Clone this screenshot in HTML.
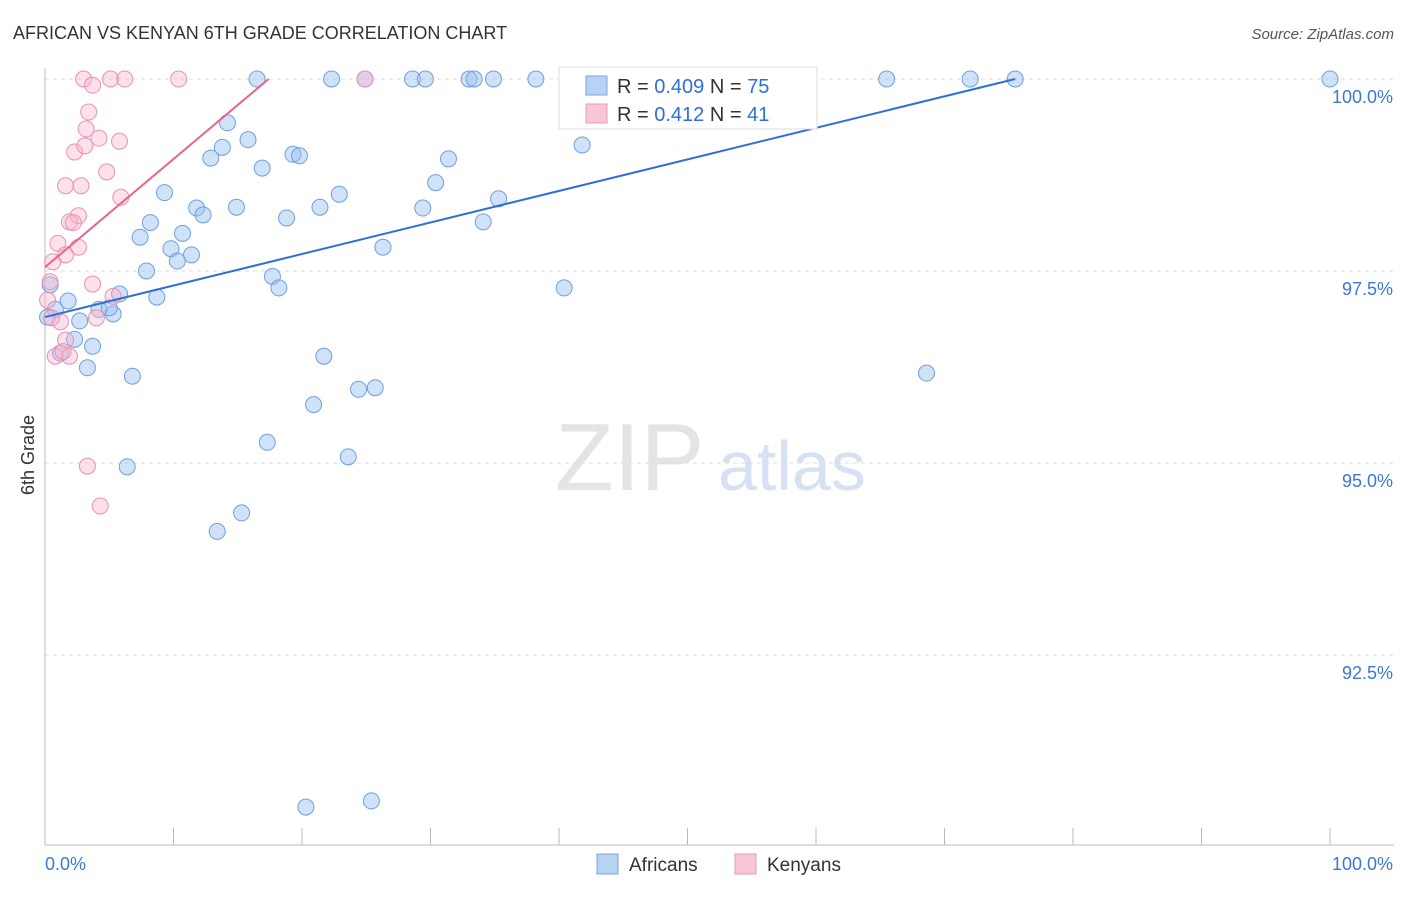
<!DOCTYPE html>
<html><head><meta charset="utf-8"><style>
body{margin:0;background:#fff;font-family:"Liberation Sans",sans-serif}
svg text{font-family:"Liberation Sans",sans-serif}
</style></head><body>
<svg id="chart" width="1406" height="892" xmlns="http://www.w3.org/2000/svg">
<text x="13" y="39" font-size="18" fill="#333">AFRICAN VS KENYAN 6TH GRADE CORRELATION CHART</text>
<text x="1394" y="39" font-size="15" fill="#555" font-style="italic" text-anchor="end">Source: ZipAtlas.com</text>
<text x="34" y="455" font-size="18" fill="#333" transform="rotate(-90 34 455)" text-anchor="middle">6th Grade</text>
<text x="555" y="490" font-size="96" fill="#e4e4e4" font-family="Liberation Serif">ZIP</text>
<text x="718" y="490" font-size="70" fill="#d6e2f3">atlas</text>
<g id="grid"></g><g id="axes"></g><g id="pts"></g><g id="trend"></g>
<g>
<rect x="559" y="67" width="258" height="62" fill="#fff" stroke="#ddd"/>
<rect x="586" y="76" width="21" height="19" fill="#b7d2f3" stroke="#7aa6e0"/>
<rect x="586" y="104" width="21" height="19" fill="#f9c6d6" stroke="#ec9ab4"/>
<text x="617" y="93" font-size="20" fill="#333">R = <tspan fill="#2f6fd6">0.409</tspan>   N = <tspan fill="#2f6fd6">75</tspan></text>
<text x="617" y="121" font-size="20" fill="#333">R =  <tspan fill="#2f6fd6">0.412</tspan>   N =  <tspan fill="#2f6fd6">41</tspan></text>
</g>
<g>
<rect x="597" y="854" width="21" height="20" fill="#b7d2f3" stroke="#7aa6e0"/>
<text x="629" y="871" font-size="19" fill="#333">Africans</text>
<rect x="735" y="854" width="21" height="20" fill="#f9c6d6" stroke="#ec9ab4"/>
<text x="767" y="871" font-size="19" fill="#333">Kenyans</text>
</g>
</svg>
<script>
const yTicks=[100,97.5,95,92.5];
const yTickLabels=["100.0%","97.5%","95.0%","92.5%"];
const xTickLabels=["0.0%","100.0%"];
const afrX=[16.5,22.3,24.9,28.6,29.6,33.0,33.4,34.9,38.2,42.4,52.3,55.5,59.1,65.5,72.0,75.5,100,14.2,15.8,13.8,12.9,16.9,19.3,19.8,31.4,41.8,30.4,9.3,22.9,11.8,14.9,21.4,29.4,35.3,8.2,12.3,18.8,34.1,7.4,10.7,9.8,10.3,11.4,26.3,7.9,17.7,18.2,8.7,40.4,1.8,0.8,4.2,5.3,5.0,5.8,2.7,2.3,3.7,1.2,21.7,3.3,6.8,68.6,24.4,25.7,20.9,17.3,23.6,6.4,15.3,13.4,20.3,25.4,0.4,0.2];
const afrY=[100,100,100,100,100,100,100,100,100,100,100,100,100,100,100,100,100,99.43,99.21,99.11,98.97,98.84,99.02,99.0,98.96,99.14,98.65,98.52,98.5,98.32,98.33,98.33,98.32,98.44,98.13,98.23,98.19,98.14,97.94,97.99,97.79,97.63,97.71,97.81,97.5,97.43,97.28,97.16,97.28,97.11,97.0,97.0,96.94,97.02,97.2,96.85,96.61,96.52,96.43,96.39,96.24,96.13,96.17,95.96,95.98,95.76,95.27,95.08,94.95,94.35,94.11,90.52,90.6,97.32,96.9];
const kenX=[3.0,5.1,6.2,10.4,24.9,3.7,3.4,3.2,4.2,5.8,2.3,3.1,4.8,1.6,2.8,5.9,2.6,1.9,2.2,2.6,1.0,1.6,0.6,3.7,0.4,5.3,0.2,1.2,0.5,4.0,1.6,0.8,1.9,3.3,4.3,1.4];
const kenY=[100,100,100,100,100,99.92,99.57,99.35,99.23,99.19,99.05,99.13,98.79,98.61,98.61,98.46,98.22,98.14,98.13,97.81,97.86,97.71,97.62,97.33,97.36,97.17,97.12,96.84,96.89,96.89,96.6,96.39,96.39,94.96,94.44,96.45];
const afrTrend=[[0,96.9],[75.5,100]];
const kenTrend=[[0,97.55],[17.4,100]];
const X=v=>45+v*12.85, Y=v=>79+(100-v)*76.8;
const NS="http://www.w3.org/2000/svg";
function mk(tag,attrs,parent){const e=document.createElementNS(NS,tag);for(const k in attrs)e.setAttribute(k,attrs[k]);document.getElementById(parent).appendChild(e);return e;}
yTicks.forEach((t,i)=>{
 const l=mk('line',{x1:45,x2:1394,y1:Y(t),y2:Y(t),stroke:'#ddd','stroke-dasharray':'4 4'},'grid');
 
 
 const tx=mk('text',{x:1393,y:Y(t)+24,'font-size':18,fill:'#3a78d6','text-anchor':'end'},'grid');
 tx.textContent=yTickLabels[i];
 
 
});
const ax=mk('line',{x1:45,x2:45,y1:68,y2:845,stroke:'#bbb'},'axes');


const bx=mk('line',{x1:45,x2:1394,y1:845,y2:845,stroke:'#bbb'},'axes');


for(let i=0;i<=10;i++){const t=mk('line',{x1:X(i*10),x2:X(i*10),y1:828,y2:845,stroke:'#bbb'},'axes');
 
 }
[[0,'start'],[100,'end']].forEach((p,i)=>{const t=mk('text',{x:i?1393:45,y:870,'font-size':18,fill:'#3a78d6','text-anchor':p[1]},'axes');t.textContent=xTickLabels[i];
 
 });
afrX.forEach((x,i)=>{const c=mk('circle',{cx:X(x),cy:Y(afrY[i]),r:8,fill:'rgba(150,190,240,0.45)',stroke:'#6e9fe0','stroke-width':1},'pts');
 
 });
kenX.forEach((x,i)=>{const c=mk('circle',{cx:X(x),cy:Y(kenY[i]),r:8,fill:'rgba(248,180,205,0.4)',stroke:'#ea90b0','stroke-width':1},'pts');
 
 });
const la=mk('line',{x1:X(afrTrend[0][0]),y1:Y(afrTrend[0][1]),x2:X(afrTrend[1][0]),y2:Y(afrTrend[1][1]),stroke:'#2f6fd6','stroke-width':2},'trend');


const lk=mk('line',{x1:X(kenTrend[0][0]),y1:Y(kenTrend[0][1]),x2:X(kenTrend[1][0]),y2:Y(kenTrend[1][1]),stroke:'#e8648e','stroke-width':2},'trend');


</script>
</body></html>
